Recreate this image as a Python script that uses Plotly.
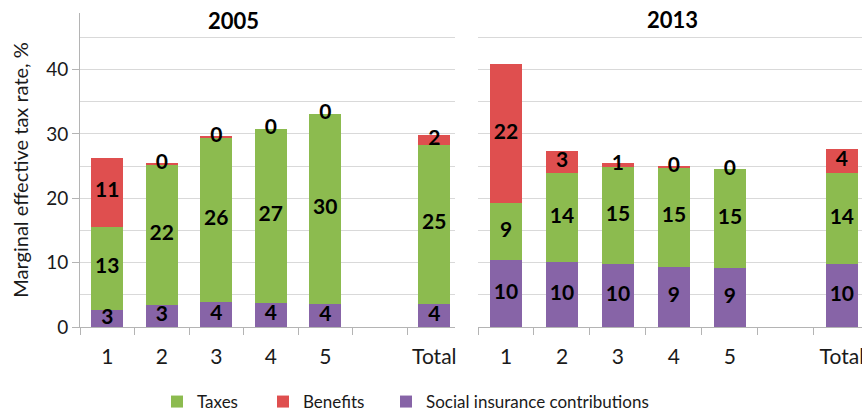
import plotly.graph_objects as go

# Categories (income quintiles, a spacer, and the total)
categories = ["1", "2", "3", "4", "5", "", "Total"]

# Marginal effective tax rate components, %
sic_2005 = [2.7, 3.4, 3.9, 3.7, 3.6, None, 3.6]
tax_2005 = [12.9, 21.8, 25.6, 27.1, 29.5, None, 24.75]
ben_2005 = [10.7, 0.35, 0.2, 0.0, 0.0, None, 1.55]

sic_2013 = [10.4, 10.1, 9.75, 9.4, 9.1, None, 9.75]
tax_2013 = [8.8, 13.9, 15.15, 15.4, 15.4, None, 14.25]
ben_2013 = [21.65, 3.4, 0.6, 0.2, 0.0, None, 3.6]

panel_titles = ["2005", "2013"]

GREEN = "#8cbb4f"
RED = "#df4f4f"
PURPLE = "#8764a7"
FONT = "Lato"
TXT = "#1a1a1a"
AXIS = "#b4b4b4"
GRID = "#d9d9d9"
W = 862
H = 412


def px_x(p):
    return p / W


def px_y(p):
    return 1 - p / H


def half_up(v):
    return int(v + 0.5)


fig = go.Figure()
xpos = list(range(len(categories)))

panels = [
    ("x", "y", sic_2005, tax_2005, ben_2005),
    ("x2", "y2", sic_2013, tax_2013, ben_2013),
]

for i, (xa, ya, sic, tax, ben) in enumerate(panels):
    series = [
        ("Social insurance contributions", sic, PURPLE, "legend3"),
        ("Taxes", tax, GREEN, "legend"),
        ("Benefits", ben, RED, "legend2"),
    ]
    base = [0.0 if v is not None else None for v in sic]
    label_x, label_y, label_t = [], [], []
    for name, vals, color, lg in series:
        fig.add_trace(go.Bar(
            x=xpos, y=vals, name=name, marker=dict(color=color, line=dict(width=0)),
            width=0.58, xaxis=xa, yaxis=ya, legend=lg,
            showlegend=(i == 0), hoverinfo="skip",
        ))
        # segment value labels, centred in each stacked segment
        for k, v in enumerate(vals):
            if v is None:
                continue
            label_x.append(k)
            label_y.append(base[k] + v / 2)
            label_t.append(str(half_up(v)))
            base[k] += v
    fig.add_trace(go.Scatter(
        x=label_x, y=label_y, text=label_t, mode="text",
        textfont=dict(family=FONT, size=21, color="#000000", weight="bold"),
        textposition="middle center", xaxis=xa, yaxis=ya,
        showlegend=False, hoverinfo="skip",
    ))

y_dom = [px_y(327), px_y(13)]
y_range = [0, 48.8]

xaxis_common = dict(
    tickvals=xpos, ticktext=categories, ticks="",
    showgrid=False, zeroline=False,
    showline=True, linecolor=AXIS, linewidth=1,
    tickfont=dict(family=FONT, size=21, color=TXT),
    ticklabelstandoff=11, ticklabeloverflow="allow",
    minor=dict(ticks="outside", tick0=-0.5, dtick=1, ticklen=7,
               tickcolor=AXIS, tickwidth=1, showgrid=False),
    fixedrange=True,
)
yaxis_common = dict(
    range=y_range, domain=y_dom,
    tickvals=[0, 10, 20, 30, 40],
    showgrid=True, gridcolor=GRID, gridwidth=1, zeroline=False,
    minor=dict(dtick=5, tick0=0, showgrid=True, gridcolor=GRID, gridwidth=1),
    fixedrange=True,
)

legend_common = dict(orientation="h", xanchor="left", yanchor="middle",
                     y=px_y(402), font=dict(family=FONT, size=17, color=TXT),
                     bgcolor="rgba(0,0,0,0)")

fig.update_layout(
    width=W, height=H,
    margin=dict(l=0, r=0, t=0, b=0, autoexpand=False),
    paper_bgcolor="white", plot_bgcolor="white",
    barmode="stack", bargap=0,
    font=dict(family=FONT, size=18, color=TXT),
    xaxis=dict(domain=[px_x(80), px_x(455)], range=[-0.5, 6.38], anchor="y",
               **xaxis_common),
    xaxis2=dict(domain=[px_x(478), 1.0], range=[-0.5, 6.36], anchor="y2",
                **xaxis_common),
    yaxis=dict(anchor="x", showline=True, linecolor=AXIS, linewidth=1,
               ticks="outside", ticklen=7, tickcolor=AXIS,
               tickfont=dict(family=FONT, size=19, color=TXT),
               title=dict(text="Marginal effective tax rate, %",
                          font=dict(family=FONT, size=20, color=TXT),
                          standoff=12),
               **yaxis_common),
    yaxis2=dict(anchor="x2", showline=False, ticks="", showticklabels=False,
                **yaxis_common),
    legend=dict(x=px_x(157), **legend_common),
    legend2=dict(x=px_x(263), **legend_common),
    legend3=dict(x=px_x(386), **legend_common),
    annotations=[
        dict(text=f"<b>{panel_titles[0]}</b>", x=px_x(233), y=px_y(21),
             xref="paper", yref="paper", xanchor="center", yanchor="middle",
             showarrow=False, font=dict(family=FONT, size=22, color="#000000")),
        dict(text=f"<b>{panel_titles[1]}</b>", x=px_x(672), y=px_y(20),
             xref="paper", yref="paper", xanchor="center", yanchor="middle",
             showarrow=False, font=dict(family=FONT, size=22, color="#000000")),
    ],
)

fig.write_html("out.html")
